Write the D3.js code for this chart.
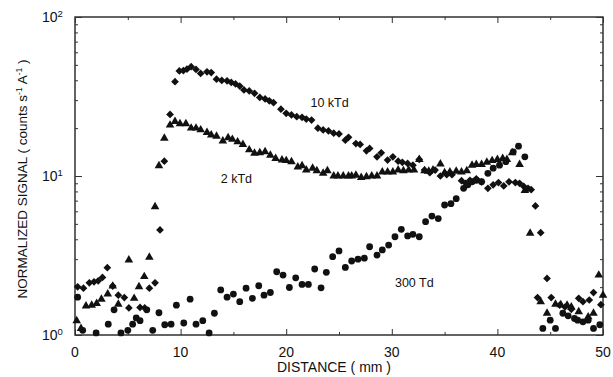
<!DOCTYPE html>
<html><head><meta charset="utf-8">
<script src="https://cdn.jsdelivr.net/npm/d3@7"></script>
<style>html,body{margin:0;padding:0;background:#fff;}svg{display:block;}</style>
</head><body>
<svg id="c" width="613" height="377"></svg>
<script>
// ---- data ----
const xTicks = [0, 10, 20, 30, 40, 50];
const yTickExps = [0, 1, 2];
const seriesLabels = ["10 kTd", "2 kTd", "300 Td"];

const kTd10X = [0.25,0.8,1.36,1.8,2.2,2.6,3.06,3.57,4.1,4.67,5.1,6.16,6.6,7.04,7.58,8.05,8.46,9.0,9.47,9.88,10.26,10.6,11.0,11.46,11.9,12.5,12.9,13.4,13.9,14.4,14.8,15.2,15.6,16.0,16.5,17.0,17.5,18.0,18.4,18.8,19.5,20.0,20.5,21.0,21.5,21.9,22.4,23.0,23.5,24.0,24.5,25.0,25.6,25.9,26.6,27.0,27.6,27.9,28.6,29.0,29.6,30.1,30.6,31.0,31.5,32.0,32.6,33.1,33.6,34.1,34.6,35.2,35.7,36.6,37.0,37.4,38.0,38.5,39.1,39.6,40.1,40.6,41.1,41.7,42.1,42.5,42.9,43.2,43.6,44.1,44.7,43.8,45.1,45.9,46.4,47.0,47.7,48.1,48.7,49.1,49.8];
const kTd10Y = [2.01,1.97,2.13,2.16,2.19,2.3,2.65,2.03,1.78,1.72,1.48,1.49,1.48,1.97,2.13,4.58,12.4,24.4,39.2,45.8,46.0,47.0,48.7,46.8,44.2,45.2,44.7,40.6,39.9,39.7,38.8,37.9,36.8,34.8,34.3,33.1,31.2,30.5,29.7,28.9,26.3,24.8,24.2,23.6,23.4,22.8,22.5,20.0,19.5,19.2,18.6,18.4,16.8,17.5,16.0,15.8,14.4,14.9,13.2,14.0,12.6,13.2,12.4,12.2,12.0,11.7,12.7,10.9,10.5,10.9,10.0,10.2,10.2,9.35,9.0,9.4,9.6,9.2,8.37,8.8,9.1,8.66,9.2,9.1,9.0,8.6,8.37,8.2,6.48,4.4,2.27,1.72,1.72,1.54,1.5,1.45,1.70,1.62,1.66,1.85,1.55];

const kTd2X = [0.16,0.57,1.04,1.58,2.05,2.5,3.1,3.57,4.1,5.1,5.6,6.06,6.56,7.04,7.58,7.95,8.46,9.0,9.47,9.94,10.5,11.0,11.46,11.9,12.5,12.9,13.4,14.0,14.5,14.9,15.4,15.9,16.5,17.0,17.5,18.0,18.5,19.0,19.6,20.0,20.5,21.1,21.5,21.9,22.5,22.9,23.5,23.9,24.5,24.9,25.4,25.9,26.2,26.6,27.1,27.6,28.1,28.6,29.1,29.6,30.1,30.6,31.1,31.6,32.1,32.6,33.1,33.5,33.9,34.6,35.0,35.5,36.1,36.6,37.1,37.6,38.0,38.5,39.0,39.5,40.0,40.5,40.9,41.4,42.1,42.6,43.1,44.1,44.7,45.5,46.0,46.6,47.0,47.7,48.6,49.1,49.6,50.0];
const kTd2Y = [1.23,1.1,1.52,1.54,1.58,1.68,1.81,2.03,1.56,2.96,1.70,2.01,2.33,3.08,6.41,11.6,17.3,20.9,22.0,21.3,21.3,20.0,20.0,19.5,18.8,18.1,17.8,16.6,17.4,17.0,16.4,15.8,14.6,13.9,14.0,14.2,13.5,12.9,12.6,12.5,12.3,11.4,11.6,10.9,11.2,10.8,10.4,10.8,10.0,10.0,10.0,10.0,10.0,10.1,9.8,9.9,10.0,10.0,10.6,10.6,10.6,10.9,10.8,10.9,10.9,12.7,10.8,10.7,10.9,11.9,10.5,10.6,10.7,10.6,10.8,11.7,11.8,11.8,12.2,12.5,12.7,12.9,12.7,14.0,11.8,8.1,4.36,1.62,1.37,1.56,1.55,1.54,1.5,1.4,1.3,1.37,2.38,1.78];

const td300X = [0.25,0.73,2.0,3.15,3.7,4.35,5.0,5.46,5.8,6.16,6.8,7.36,7.95,8.5,9.1,9.6,10.3,10.9,11.46,12.1,12.7,13.2,13.8,14.4,15.0,15.6,16.2,16.8,17.4,17.9,18.5,19.1,19.7,20.3,20.9,21.5,22.1,22.7,23.3,23.8,24.4,25.0,25.6,26.2,26.8,27.4,27.9,28.6,29.1,29.7,30.3,30.9,31.5,32.0,32.6,33.2,33.8,34.4,35.0,35.6,36.1,36.8,37.2,37.6,38.0,38.5,39.1,39.6,40.2,40.8,41.5,42.0,42.6,44.3,45.0,45.5,46.2,46.7,47.3,47.6,48.1,48.6,49.1,49.7];
const td300Y = [1.73,1.07,1.03,1.17,1.44,1.03,1.07,1.17,1.28,1.23,1.44,1.07,1.38,1.16,1.17,1.54,1.19,1.68,1.17,1.23,1.03,1.37,1.92,1.73,1.81,1.62,1.97,1.70,2.04,1.78,1.85,2.5,2.38,1.99,2.29,2.08,2.08,2.6,1.98,2.48,3.11,3.38,2.66,2.92,3.0,3.04,3.59,3.18,3.43,3.68,4.15,4.62,4.2,4.3,4.15,5.16,5.6,5.4,6.57,6.7,7.2,8.37,8.8,9.2,9.4,9.2,10.4,11.2,11.7,12.3,14.2,15.4,13.2,1.1,1.24,1.1,1.37,1.32,1.27,1.24,1.21,1.24,1.1,1.16];

// ---- chart ----
const svg = d3.select("#c");
const L = 75, R = 603, T = 17, B = 335;
const x = d3.scaleLinear().domain([0, 50]).range([L, R]);
const y = d3.scaleLog().domain([1, 100]).range([B, T]);
const font = "'Liberation Sans', Arial, Helvetica, sans-serif";
const ink = "#111";

// frame
svg.append("rect").attr("x", L).attr("y", T).attr("width", R - L).attr("height", B - T)
  .attr("fill", "none").attr("stroke", "#222").attr("stroke-width", 1.4);

// minor y values
const yMinor = [];
[1, 10].forEach(d => { for (let k = 2; k <= 9; k++) yMinor.push(d * k); });
const yMajor = yTickExps.map(e => Math.pow(10, e));

// axes with inward ticks
const axL = d3.axisLeft(y).tickValues(yMajor).tickSize(-7).tickFormat("");
const axLm = d3.axisLeft(y).tickValues(yMinor).tickSize(-3).tickFormat("");
const axR = d3.axisRight(y).tickValues(yMajor).tickSize(-7).tickFormat("");
const axRm = d3.axisRight(y).tickValues(yMinor).tickSize(-3).tickFormat("");
const xMinor = [5, 15, 25, 35, 45];
const axB = d3.axisBottom(x).tickValues(xTicks).tickSize(-6).tickFormat("");
const axBm = d3.axisBottom(x).tickValues(xMinor).tickSize(-3).tickFormat("");
const axT = d3.axisTop(x).tickValues(xTicks).tickSize(-6).tickFormat("");
const axTm = d3.axisTop(x).tickValues(xMinor).tickSize(-3).tickFormat("");

[[axL, `translate(${L},0)`], [axLm, `translate(${L},0)`], [axR, `translate(${R},0)`], [axRm, `translate(${R},0)`],
 [axB, `translate(0,${B})`], [axBm, `translate(0,${B})`], [axT, `translate(0,${T})`], [axTm, `translate(0,${T})`]]
.forEach(([a, tr]) => {
  const g = svg.append("g").attr("transform", tr).call(a);
  g.select(".domain").remove();
  g.selectAll(".tick line").attr("stroke", "#333").attr("stroke-width", 1);
});

// x tick labels
svg.append("g").selectAll("text").data(xTicks).join("text")
  .attr("x", d => x(d)).attr("y", 357)
  .attr("text-anchor", "middle").attr("font-family", font).attr("font-size", 14).attr("fill", ink)
  .text(d => d);

// y tick labels 10^n
const yl = svg.append("g").selectAll("text").data(yTickExps).join("text")
  .attr("x", 42).attr("y", d => y(Math.pow(10, d)) + 5)
  .attr("font-family", font).attr("font-size", 14).attr("fill", ink);
yl.append("tspan").text("10");
yl.append("tspan").attr("dy", -5).attr("font-size", 9.5).text(d => d);

// axis titles
svg.append("text").attr("x", 334).attr("y", 372).attr("text-anchor", "middle")
  .attr("font-family", font).attr("font-size", 14).attr("fill", ink).text("DISTANCE ( mm )");

const yt = svg.append("text").attr("transform", `translate(27,${(T + B) / 2 + 3}) rotate(-90)`)
  .attr("text-anchor", "middle").attr("font-family", font).attr("font-size", 13.5).attr("fill", ink);
yt.append("tspan").text("NORMALIZED SIGNAL ( counts s");
yt.append("tspan").attr("dy", -5).attr("font-size", 8.5).text("-1");
yt.append("tspan").attr("dy", 5).text(" A");
yt.append("tspan").attr("dy", -5).attr("font-size", 8.5).text("-1");
yt.append("tspan").attr("dy", 5).text(" )");

// markers
const diamond = d3.symbol().type(d3.symbolSquare).size(30);
const tri = d3.symbol().type(d3.symbolTriangle).size(32);

svg.append("g").selectAll("path").data(d3.zip(kTd10X, kTd10Y)).join("path")
  .attr("d", diamond).attr("transform", d => `translate(${x(d[0])},${y(d[1])}) rotate(45)`)
  .attr("fill", ink);

svg.append("g").selectAll("path").data(d3.zip(kTd2X, kTd2Y)).join("path")
  .attr("d", tri).attr("transform", d => `translate(${x(d[0])},${y(d[1])})`)
  .attr("fill", ink);

svg.append("g").selectAll("circle").data(d3.zip(td300X, td300Y)).join("circle")
  .attr("cx", d => x(d[0])).attr("cy", d => y(d[1])).attr("r", 3.4)
  .attr("fill", ink);

// series labels
const labPos = [[22.3, 27.0], [13.8, 9.0], [30.3, 2.0]];
svg.append("g").selectAll("text").data(seriesLabels).join("text")
  .attr("x", (d, i) => x(labPos[i][0])).attr("y", (d, i) => y(labPos[i][1]))
  .attr("font-family", font).attr("font-size", 12.5).attr("fill", ink)
  .text(d => d);
</script>
</body></html>
